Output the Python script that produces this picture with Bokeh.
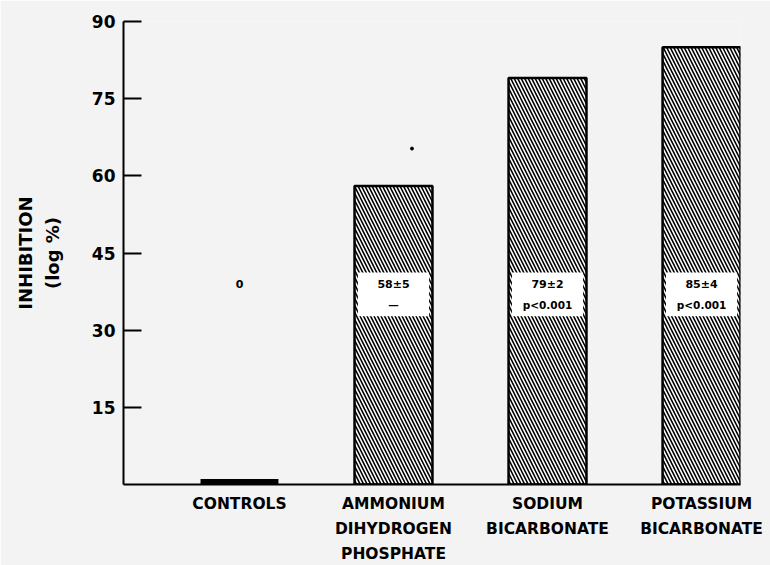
from bokeh.plotting import figure
from bokeh.models import Range1d, FixedTicker, ColumnDataSource
from bokeh.core.properties import value
from bokeh.embed import file_html
from bokeh.resources import INLINE

# Treatment groups and mean inhibition values
categories = ["CONTROLS", "AMMONIUM\nDIHYDROGEN\nPHOSPHATE", "SODIUM\nBICARBONATE", "POTASSIUM\nBICARBONATE"]
inhibition = [0, 58, 79, 85]
mean_labels = ["0", "58±5", "79±2", "85±4"]
p_labels = ["", "—", "p<0.001", "p<0.001"]
y_ticks = [15, 30, 45, 60, 75, 90]

FONT = "DejaVu Sans"
BG = "#f3f3f3"
x = list(range(len(categories)))
bar_w = 0.506

p = figure(width=770, height=565, output_backend="svg", toolbar_location=None,
           x_range=Range1d(-0.753, 3.253), y_range=Range1d(0, 90),
           min_border_left=123, min_border_right=30, min_border_top=21,
           min_border_bottom=81, background_fill_color=BG,
           border_fill_color=BG, outline_line_color=None)
p.grid.visible = False

# hatched bars (controls shown as a flat heavy bar at zero)
bars = ColumnDataSource(dict(x=x, top=inhibition,
                             lw=[11, 2.5, 2.5, 2.5]))
p.vbar(x="x", top="top", width=bar_w, bottom=0, source=bars,
       fill_color="white", line_color="black", line_width="lw",
       hatch_pattern="\\", hatch_color="black", hatch_scale=7,
       hatch_weight=1.6)

# white label panels inside the treated bars
treated = [i for i in x if inhibition[i] > 0]
p.quad(left=[i - bar_w / 2 + 0.022 for i in treated],
       right=[i + bar_w / 2 - 0.022 for i in treated],
       bottom=32.7, top=41.2, fill_color="white", line_color=None)

p.text(x=x, y=[38.9] * len(x), text=mean_labels, text_align="center",
       text_baseline="middle", text_font=value(FONT),
       text_font_style="bold", text_font_size="11px", text_color="black")
p.text(x=x, y=[34.8] * len(x), text=p_labels, text_align="center",
       text_baseline="middle", text_font=value(FONT),
       text_font_style="bold", text_font_size="10.5px", text_color="black")

# small dot above the phosphate bar
p.scatter(x=[1.12], y=[65.3], size=3, color="black")

# axes
xa = p.xaxis[0]
xa.ticker = FixedTicker(ticks=x)
xa.major_label_overrides = {i: c for i, c in zip(x, categories)}
xa.major_tick_line_color = None
xa.minor_tick_line_color = None
xa.axis_line_width = 2
xa.axis_line_color = "black"
xa.major_label_standoff = 4
xa.major_label_text_font = FONT
xa.major_label_text_font_style = "bold"
xa.major_label_text_font_size = "15.5px"
xa.major_label_text_line_height = 1.4
xa.major_label_text_color = "black"

ya = p.yaxis[0]
ya.ticker = FixedTicker(ticks=y_ticks)
ya.major_tick_in = 18
ya.major_tick_out = 0
ya.minor_tick_line_color = None
ya.major_tick_line_width = 2
ya.axis_line_width = 2
ya.axis_line_color = "black"
ya.major_label_standoff = 8
ya.major_label_text_font = FONT
ya.major_label_text_font_style = "bold"
ya.major_label_text_font_size = "17px"
ya.major_label_text_color = "black"
ya.axis_label = "INHIBITION\n(log %)"
ya.axis_label_text_font = FONT
ya.axis_label_text_font_style = "bold"
ya.axis_label_text_font_size = "18px"
ya.axis_label_text_line_height = 1.3
ya.axis_label_text_color = "black"
ya.axis_label_standoff = 26

open("out.html", "w").write(file_html(p, INLINE))
